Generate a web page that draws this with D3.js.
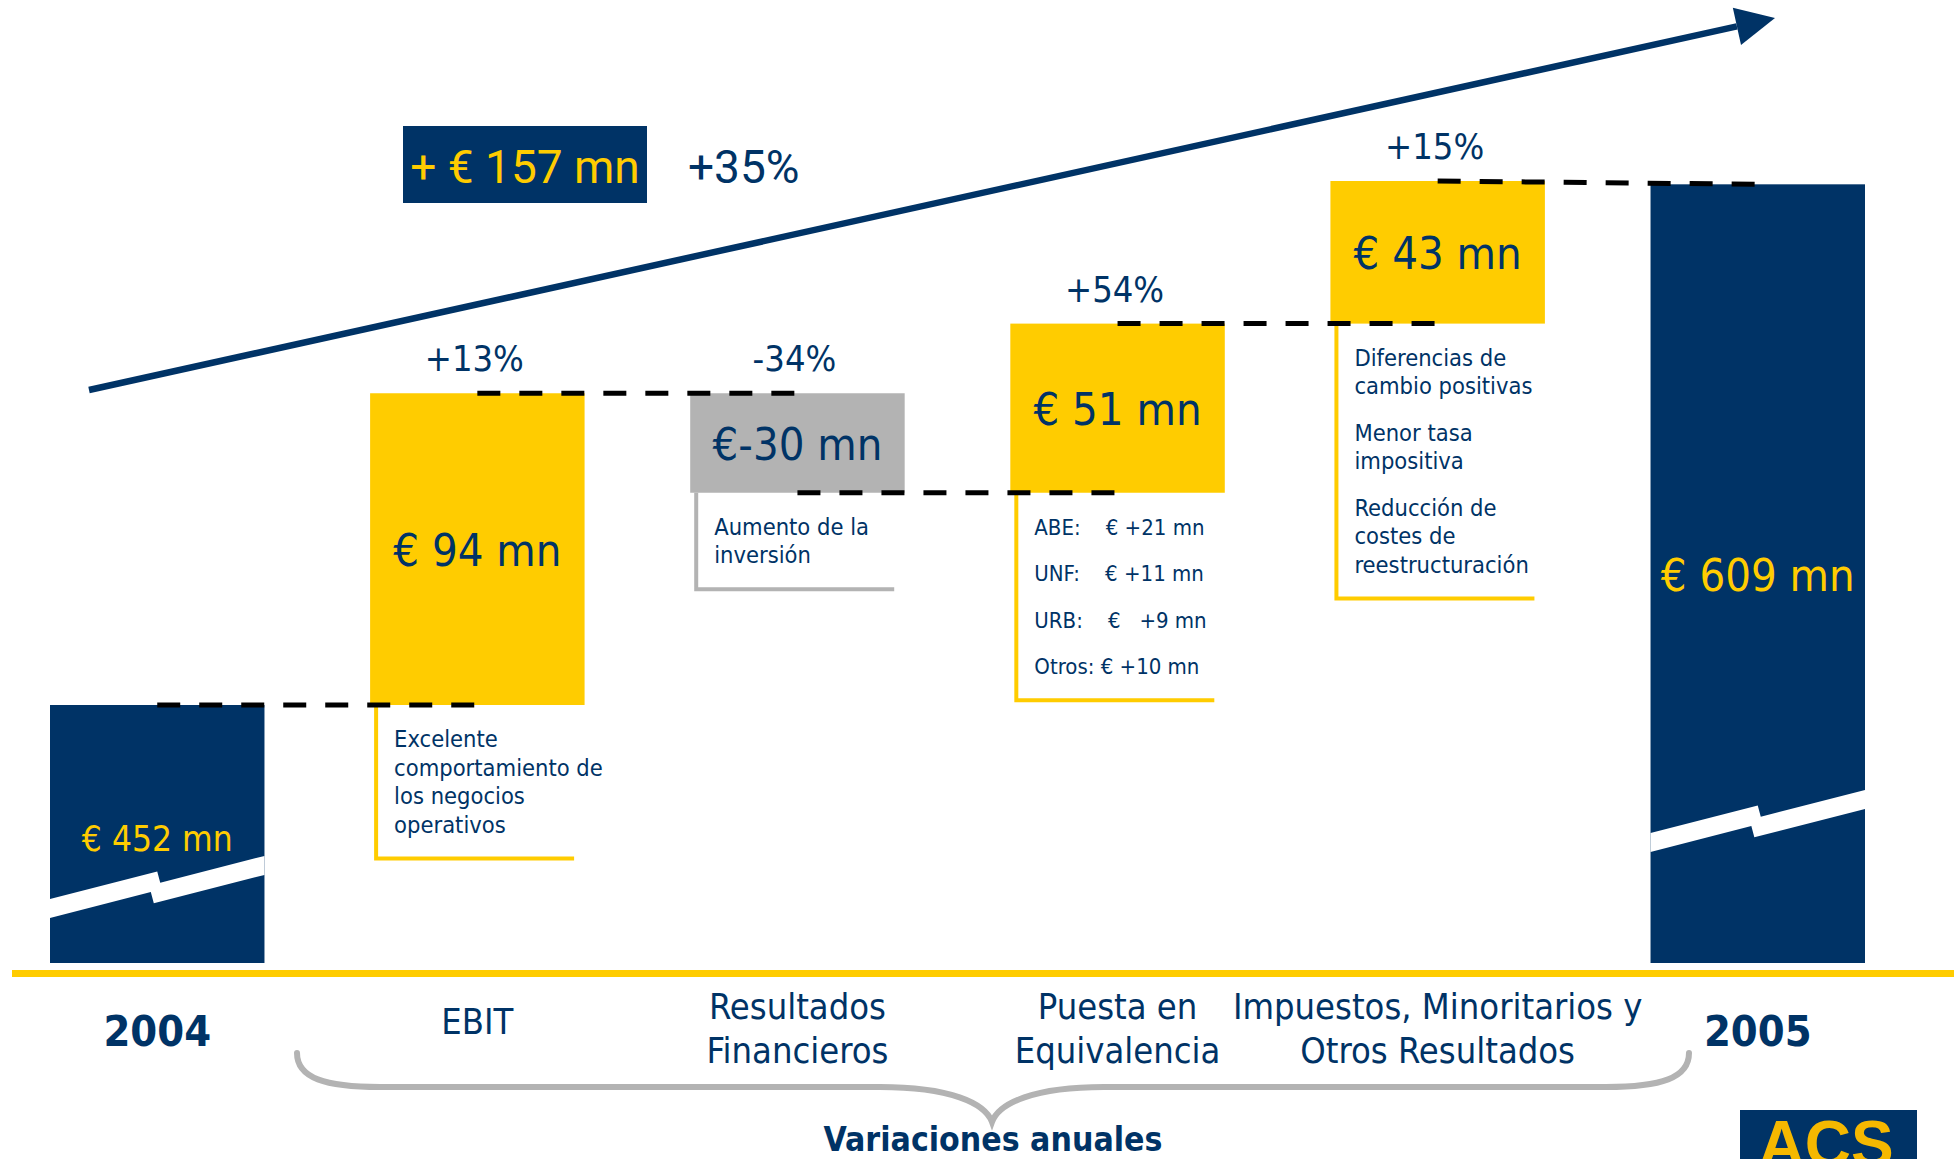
<!DOCTYPE html>
<html>
<head>
<meta charset="utf-8">
<script src="https://cdn.jsdelivr.net/npm/d3@7"></script>
<style>
    body { margin: 0; background: #ffffff; }
    svg text { font-family: "DejaVu Sans Condensed", "DejaVu Sans", sans-serif; font-stretch: condensed; }
    svg text.wide { font-family: Roboto, sans-serif; font-stretch: normal; }
</style>
</head>
<body>
<div id="chart"></div>
<script>
// waterfall: net profit 2004 -> 2005
var categories = ["2004", "EBIT", "Resultados Financieros", "Puesta en Equivalencia",
    "Impuestos, Minoritarios y Otros Resultados", "2005"];
var categoryLines = [["2004"], ["EBIT"], ["Resultados", "Financieros"], ["Puesta en", "Equivalencia"],
    ["Impuestos, Minoritarios y", "Otros Resultados"], ["2005"]];
var values = [452, 94, -30, 51, 43, 609];
var isTotal = [true, false, false, false, false, true];
var valueLabels = ["€ 452 mn", "€ 94 mn", "€-30 mn", "€ 51 mn", "€ 43 mn", "€ 609 mn"];
var pctLabels = ["", "+13%", "-34%", "+54%", "+15%", ""];
var notes = [
    [],
    ["Excelente", "comportamiento de", "los negocios", "operativos"],
    ["Aumento de la", "inversión"],
    ["ABE:    € +21 mn", "", "UNF:    € +11 mn", "", "URB:    €   +9 mn", "", "Otros: € +10 mn"],
    ["Diferencias de", "cambio positivas", "", "Menor tasa", "impositiva", "", "Reducción de", "costes de", "reestructuración"],
    []
];
var totalChange = "+ € 157 mn";
var totalChangePct = "+35%";
var bracketTitle = "Variaciones anuales";
var logoText = "ACS";

window.onload = start;

function start() {
    var width = 1954, height = 1159;
    var baseY = 963;           // bottom of the broken total bars
    var navy = "#003366", yellow = "#ffcc00", grey = "#b3b3b3";

    var svg = d3.select("#chart")
        .append("svg")
        .attr("width", width)
        .attr("height", height);

    // running levels of the waterfall
    var bars = [];
    var level = 0;
    for (var i = 0; i < categories.length; i++) {
        var b = { i: i, cat: categories[i] };
        if (isTotal[i]) {
            level = values[i];
            b.start = level; b.end = level; b.top = level; b.bottom = null;
        } else {
            b.start = level;
            level += values[i];
            b.end = level;
            b.top = Math.max(b.start, b.end);
            b.bottom = Math.min(b.start, b.end);
        }
        bars.push(b);
    }

    var x = d3.scaleBand().domain(categories).range([50, 1865]).paddingInner(0.33).paddingOuter(0);
    var y = d3.scaleLinear()
        .domain(d3.extent(bars, function (d) { return d.end; }))
        .range([705, 181]);

    function cx(d) { return x(d.cat) + x.bandwidth() / 2; }
    function yTop(d) { return y(d.top); }
    function yBot(d) { return d.bottom === null ? baseY : y(d.bottom); }
    function barColor(d) { return isTotal[d.i] ? navy : (values[d.i] >= 0 ? yellow : grey); }

    // big trend arrow
    var aStart = [89, 390], aTip = [1775, 18], headLen = 39, headHalf = 19;
    var dx = aTip[0] - aStart[0], dy = aTip[1] - aStart[1];
    var len = Math.sqrt(dx * dx + dy * dy);
    var ux = dx / len, uy = dy / len;
    var base = [aTip[0] - headLen * ux, aTip[1] - headLen * uy];
    svg.append("line")
        .attr("x1", aStart[0]).attr("y1", aStart[1])
        .attr("x2", base[0]).attr("y2", base[1])
        .attr("stroke", navy).attr("stroke-width", 6.5);
    svg.append("path")
        .attr("d", "M" + aTip + "L" + [base[0] - headHalf * uy, base[1] + headHalf * ux] +
            "L" + [base[0] + headHalf * uy, base[1] - headHalf * ux] + "Z")
        .attr("fill", navy);

    // total change box
    svg.append("rect")
        .attr("x", 403).attr("y", 126).attr("width", 244).attr("height", 77)
        .attr("fill", navy);
    svg.append("text")
        .attr("class", "wide")
        .attr("x", 525).attr("y", 183)
        .attr("text-anchor", "middle")
        .style("font-size", "46px")
        .attr("fill", yellow)
        .text(totalChange);
    svg.append("text")
        .attr("class", "wide")
        .attr("x", 688).attr("y", 183)
        .style("font-size", "46px")
        .attr("fill", navy)
        .text(totalChangePct);

    // bars
    svg.append("g").selectAll("rect")
        .data(bars)
        .enter()
        .append("rect")
        .attr("x", function (d) { return x(d.cat); })
        .attr("y", yTop)
        .attr("width", x.bandwidth())
        .attr("height", function (d) { return yBot(d) - yTop(d); })
        .attr("fill", barColor);

    // axis break on the total bars
    var breakLift = { "2004": 64, "2005": 130 };
    function breakPath(d) {
        var x0 = x(d.cat), w = x.bandwidth(), x1 = x0 + w;
        var y0 = baseY - breakLift[d.cat];
        var s = 0.257, t = 19, k = 12, st = 3;
        var xa = x0 + w * 0.5, xb = x0 + w * 0.47;
        var pts = [
            [x0, y0],
            [xa, y0 - s * (xa - x0)],
            [xa + st, y0 - s * (xa + st - x0) + k],
            [x1, y0 - s * (x1 - x0) + k],
            [x1, y0 - s * (x1 - x0) + k + t],
            [xb + st, y0 + t - s * (xb + st - x0) + k],
            [xb, y0 + t - s * (xb - x0)],
            [x0, y0 + t]
        ];
        return "M" + pts.join("L") + "Z";
    }
    svg.append("g").selectAll("path")
        .data(bars.filter(function (d) { return isTotal[d.i]; }))
        .enter()
        .append("path")
        .attr("d", breakPath)
        .attr("fill", "#ffffff");

    // note boxes under the variation bars
    var noteW = 198, lineH = 28.5, gapH = 18;
    bars.forEach(function (d) {
        var lines = notes[d.i];
        if (!lines.length) return;
        var lx = x(d.cat) + 6;
        var yy = yBot(d) + 42;
        var g = svg.append("g");
        var last = yy;
        lines.forEach(function (t) {
            if (t === "") { yy += gapH; return; }
            g.append("text")
                .attr("x", lx + 18).attr("y", yy)
                .style("font-size", d.i === 3 ? "22px" : "23.5px")
                .style("white-space", "pre")
                .attr("fill", navy)
                .text(t);
            last = yy;
            yy += lineH;
        });
        var bottom = last + 26;
        g.insert("path", "text")
            .attr("d", "M" + lx + "," + yBot(d) + "V" + bottom + "H" + (lx + noteW))
            .attr("fill", "none")
            .attr("stroke", barColor(d))
            .attr("stroke-width", 4);
    });

    // dashed connectors
    var links = [];
    for (var j = 0; j < bars.length - 1; j++) {
        var a = bars[j], n = bars[j + 1];
        links.push({
            x1: cx(a), y1: y(a.end),
            x2: cx(n), y2: isTotal[n.i] ? y(n.top) : y(a.end)
        });
    }
    svg.append("g").selectAll("line")
        .data(links)
        .enter()
        .append("line")
        .attr("x1", function (d) { return d.x1; })
        .attr("y1", function (d) { return d.y1; })
        .attr("x2", function (d) { return d.x2; })
        .attr("y2", function (d) { return d.y2; })
        .attr("stroke", "#000000")
        .attr("stroke-width", 5)
        .attr("stroke-dasharray", "23,19");

    // value labels inside the bars
    svg.append("g").selectAll("text")
        .data(bars)
        .enter()
        .append("text")
        .attr("x", cx)
        .attr("y", function (d) { return (yTop(d) + yBot(d)) / 2 + 17; })
        .attr("text-anchor", "middle")
        .style("font-size", function (d) { return yBot(d) - yTop(d) < 300 && isTotal[d.i] ? "35px" : "45px"; })
        .attr("fill", function (d) { return isTotal[d.i] ? yellow : navy; })
        .text(function (d) { return valueLabels[d.i]; });

    // percentage labels above the variation bars
    svg.append("g").selectAll("text")
        .data(bars.filter(function (d) { return pctLabels[d.i] !== ""; }))
        .enter()
        .append("text")
        .attr("x", function (d) { return cx(d) - 3; })
        .attr("y", function (d) { return yTop(d) - 22; })
        .attr("text-anchor", "middle")
        .style("font-size", "36px")
        .attr("fill", navy)
        .text(function (d) { return pctLabels[d.i]; });

    // yellow base line
    svg.append("line")
        .attr("x1", 12).attr("x2", width)
        .attr("y1", 973.5).attr("y2", 973.5)
        .attr("stroke", yellow).attr("stroke-width", 7);

    // category labels
    var cl = svg.append("g").selectAll("text")
        .data(bars)
        .enter()
        .append("text")
        .attr("text-anchor", "middle")
        .attr("fill", navy)
        .style("font-size", function (d) { return isTotal[d.i] ? "43px" : "36px"; })
        .style("font-weight", function (d) { return isTotal[d.i] ? "bold" : "normal"; });
    cl.each(function (d) {
        var lines = categoryLines[d.i];
        var y0 = isTotal[d.i] ? 1046 : (lines.length > 1 ? 1019 : 1034);
        var t = d3.select(this);
        lines.forEach(function (s, k) {
            t.append("tspan").attr("x", cx(d)).attr("y", y0 + k * 44).text(s);
        });
    });

    // bracket over the yearly variations
    svg.append("path")
        .attr("d", "M297,1053 C297,1078 325,1087 380,1087 L880,1087 C950,1087 985,1103 992,1122" +
            " C999,1103 1034,1087 1104,1087 L1606,1087 C1661,1087 1689,1078 1689,1053")
        .attr("fill", "none")
        .attr("stroke", grey)
        .attr("stroke-width", 6)
        .attr("stroke-linecap", "round");
    svg.append("text")
        .attr("x", 993).attr("y", 1151)
        .attr("text-anchor", "middle")
        .style("font-size", "33.5px")
        .style("font-weight", "bold")
        .attr("fill", navy)
        .text(bracketTitle);

    // logo
    svg.append("rect")
        .attr("x", 1740).attr("y", 1110).attr("width", 177).attr("height", 60)
        .attr("fill", navy);
    svg.append("text")
        .attr("class", "wide")
        .attr("x", 1826).attr("y", 1166)
        .attr("text-anchor", "middle")
        .style("font-family", "Liberation Sans")
        .style("font-weight", "bold")
        .style("font-size", "64px")
        .attr("fill", "#f5b800")
        .text(logoText);
}
</script>
</body>
</html>
